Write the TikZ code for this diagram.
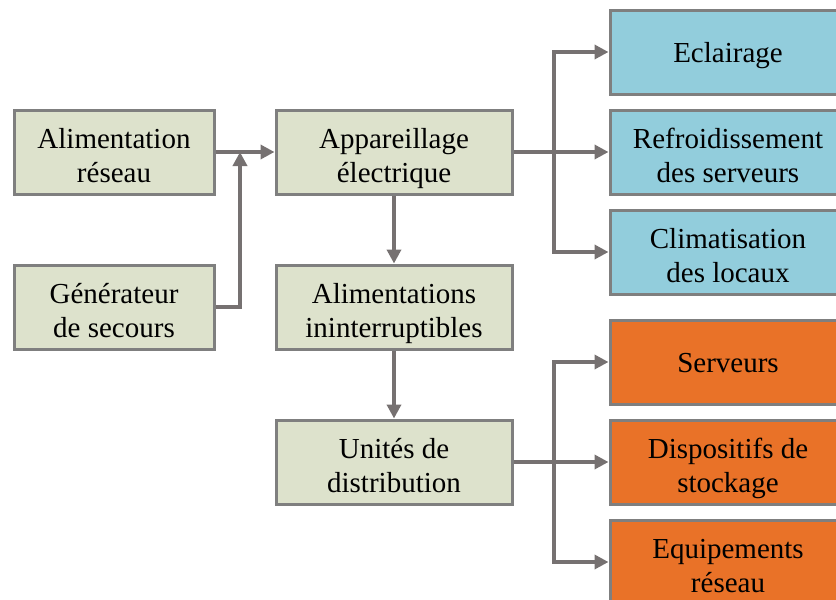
\documentclass[tikz,border=0pt]{standalone}
\usepackage{fontspec}
\setmainfont{Liberation Serif}
\newfontfamily\boxfont{Liberation Serif}
\usetikzlibrary{arrows.meta}
\definecolor{boxgreen}{RGB}{221,226,204}
\definecolor{boxblue}{RGB}{146,205,220}
\definecolor{boxorange}{RGB}{233,114,40}
\definecolor{boxgray}{RGB}{127,127,127}
\definecolor{linkgray}{RGB}{118,113,113}
\begin{document}
\begin{tikzpicture}[
        x=1pt, y=-1pt,
        font=\boxfont\fontsize{29}{34}\selectfont,
        twolines/.style={text height=60pt, text depth=0pt},
        oneline/.style={text height=20pt, text depth=0pt},
        box/.style={draw=boxgray, line width=3pt, minimum height=84pt, inner sep=0pt, align=center, twolines},
        srcbox/.style={box, fill=boxgreen, minimum width=200pt},
        midbox/.style={box, fill=boxgreen, minimum width=236pt},
        coolbox/.style={box, fill=boxblue, minimum width=236pt},
        itbox/.style={box, fill=boxorange, minimum width=236pt},
        link/.style={draw=linkgray, line width=3.5pt, -{Triangle[length=14pt,width=14pt]}},
        ]
        \clip (0,0) rectangle (836,600);

        % sources
        \node[srcbox] (ali) at (114,152) {Alimentation\\réseau};
        \node[srcbox] (gen) at (114,307) {Générateur\\de secours};

        % chaine electrique
        \node[midbox] (app) at (394,152) {Appareillage\\électrique};
        \node[midbox] (ups) at (394,307) {Alimentations\\ininterruptibles};
        \node[midbox] (pdu) at (394,462) {Unités de\\distribution};

        % charges
        \foreach \nm / \yy / \lines / \txt in {
            ecl/52/oneline/Eclairage,
            ref/152/twolines/Refroidissement\\des serveurs,
            clim/252/twolines/Climatisation\\des locaux
        }
        {
            \node[coolbox, \lines] (\nm) at (728,\yy) {\txt};
        }
        \foreach \nm / \yy / \lines / \txt in {
            srv/362/oneline/Serveurs,
            sto/462/twolines/Dispositifs de\\stockage,
            net/562/twolines/Equipements\\réseau
        }
        {
            \node[itbox, \lines] (\nm) at (728,\yy) {\txt};
        }

        \coordinate (join) at (240,152);
        \coordinate (split1) at (554,152);
        \coordinate (split2) at (554,462);

        \draw[link] (ali) -- (app);
        \draw[link] (gen.east) -| (join);
        \draw[link] (app) -- (ups);
        \draw[link] (ups) -- (pdu);

        \draw[link] (app.east) -- (ref.west);
        \draw[link] (split1) |- (ecl.west);
        \draw[link] (split1) |- (clim.west);

        \draw[link] (pdu.east) -- (sto.west);
        \draw[link] (split2) |- (srv.west);
        \draw[link] (split2) |- (net.west);

    \end{tikzpicture}
\end{document}
